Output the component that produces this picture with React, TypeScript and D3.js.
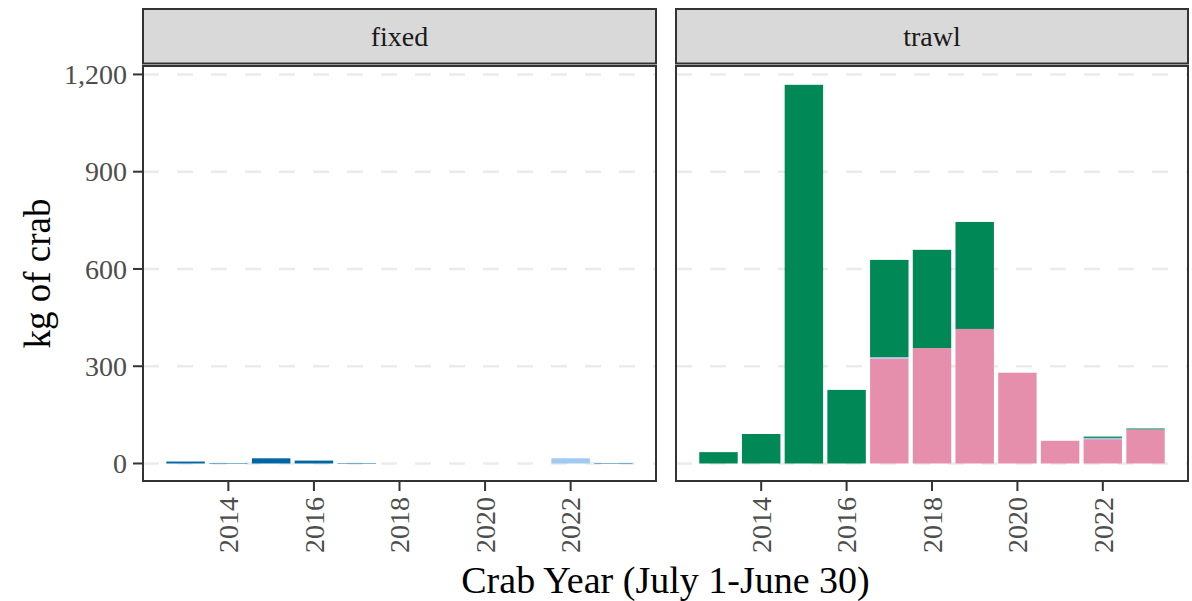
import React from "react";
import * as d3 from "d3";

const years = [2013, 2014, 2015, 2016, 2017, 2018, 2019, 2020, 2021, 2022, 2023];
const panels = ["fixed", "trawl"];
const seriesKeys = ["pink", "darkblue", "lightblue", "green"];
const seriesColors = ["#E68FAC", "#0067A5", "#A1CAF1", "#008856"];

// values per year (kg) for each panel/series
const fixedPink = [0, 0, 0, 0, 0, 0, 0, 0, 0, 0, 0];
const fixedDarkBlue = [6, 1.5, 16, 9, 1.5, 0, 0, 0, 0, 0, 1.5];
const fixedLightBlue = [0, 0, 0, 0, 0, 0, 0, 0, 0, 16, 0];
const fixedGreen = [0, 0, 0, 0, 0, 0, 0, 0, 0, 0, 0];

const trawlPink = [0, 0, 0, 0, 324, 356, 415, 280, 70, 75, 105];
const trawlDarkBlue = [0, 0, 0, 0, 0, 0, 0, 0, 0, 0, 0];
const trawlLightBlue = [0, 0, 0, 0, 4, 0, 0, 0, 0, 4, 0];
const trawlGreen = [35, 91, 1168, 227, 300, 303, 330, 0, 0, 4, 3];

const yTicks = [0, 300, 600, 900, 1200];
const xTicks = [2014, 2016, 2018, 2020, 2022];

const panelData: Record<string, number[][]> = {
  fixed: [fixedPink, fixedDarkBlue, fixedLightBlue, fixedGreen],
  trawl: [trawlPink, trawlDarkBlue, trawlLightBlue, trawlGreen],
};

const W = 1192;
const H = 601;
const panelTop = 66;
const panelBottom = 481;
const stripTop = 9;
const stripBottom = 63.5;
const panelX = [
  [143, 656],
  [676, 1188],
];
const font = "Liberation Serif, Times New Roman, serif";

export default function App() {
  const y = d3.scaleLinear().domain([-54, 1226]).range([panelBottom, panelTop]);
  const fmt = d3.format(",");

  return (
    <svg width={W} height={H} style={{ position: "absolute", left: 0, top: 0, background: "#fff" }}>
      <rect x={0} y={0} width={W} height={H} fill="#fff" />
      {panels.map((p, pi) => {
        const [x0, x1] = panelX[pi];
        const lo = years[0] - 0.45;
        const hi = years[years.length - 1] + 0.45;
        const pad = (hi - lo) * 0.05;
        const x = d3.scaleLinear().domain([lo - pad, hi + pad]).range([x0, x1]);
        const bw = x(0.9) - x(0);
        const rows = years.map((yr, i) => {
          const r: Record<string, number> = { year: yr };
          seriesKeys.forEach((k, si) => (r[k] = panelData[p][si][i]));
          return r;
        });
        const stacked = d3.stack().keys(seriesKeys)(rows as any);
        return (
          <g key={p}>
            <rect x={x0} y={stripTop} width={x1 - x0} height={stripBottom - stripTop} fill="#d9d9d9" stroke="#333" strokeWidth={2} />
            <text x={(x0 + x1) / 2} y={(stripTop + stripBottom) / 2} dy="0.35em" textAnchor="middle" fontFamily={font} fontSize={28} fill="#1a1a1a">
              {p}
            </text>
            {yTicks.map((t) => (
              <line key={t} x1={x0} x2={x1} y1={y(t)} y2={y(t)} stroke="#ebebeb" strokeWidth={2.5} strokeDasharray="16 18" />
            ))}
            {stacked.map((s, si) => (
              <g key={seriesKeys[si]} fill={seriesColors[si]}>
                {s.map((d, i) => {
                  const h = y(d[0]) - y(d[1]);
                  if (h <= 0) return null;
                  return <rect key={i} x={x(years[i]) - bw / 2} y={y(d[1])} width={bw} height={h} />;
                })}
              </g>
            ))}
            <rect x={x0} y={panelTop} width={x1 - x0} height={panelBottom - panelTop} fill="none" stroke="#333" strokeWidth={2} />
            {xTicks.map((t) => (
              <g key={t}>
                <line x1={x(t)} x2={x(t)} y1={panelBottom} y2={panelBottom + 10} stroke="#333" strokeWidth={2} />
                <text
                  transform={`translate(${x(t)},${panelBottom + 16}) rotate(-90)`}
                  textAnchor="end"
                  dy="0.35em"
                  fontFamily={font}
                  fontSize={28}
                  fill="#4d4d4d"
                >
                  {t}
                </text>
              </g>
            ))}
            {pi === 0 &&
              yTicks.map((t) => (
                <g key={t}>
                  <line x1={x0 - 10} x2={x0} y1={y(t)} y2={y(t)} stroke="#333" strokeWidth={2} />
                  <text x={x0 - 16} y={y(t)} dy="0.35em" textAnchor="end" fontFamily={font} fontSize={28} fill="#4d4d4d">
                    {fmt(t)}
                  </text>
                </g>
              ))}
          </g>
        );
      })}
      <text transform={`translate(50,${(panelTop + panelBottom) / 2}) rotate(-90)`} textAnchor="middle" fontFamily={font} fontSize={37} fill="#000">
        kg of crab
      </text>
      <text x={(143 + 1188) / 2} y={593} textAnchor="middle" fontFamily={font} fontSize={38} fill="#000">
        Crab Year (July 1-June 30)
      </text>
    </svg>
  );
}
